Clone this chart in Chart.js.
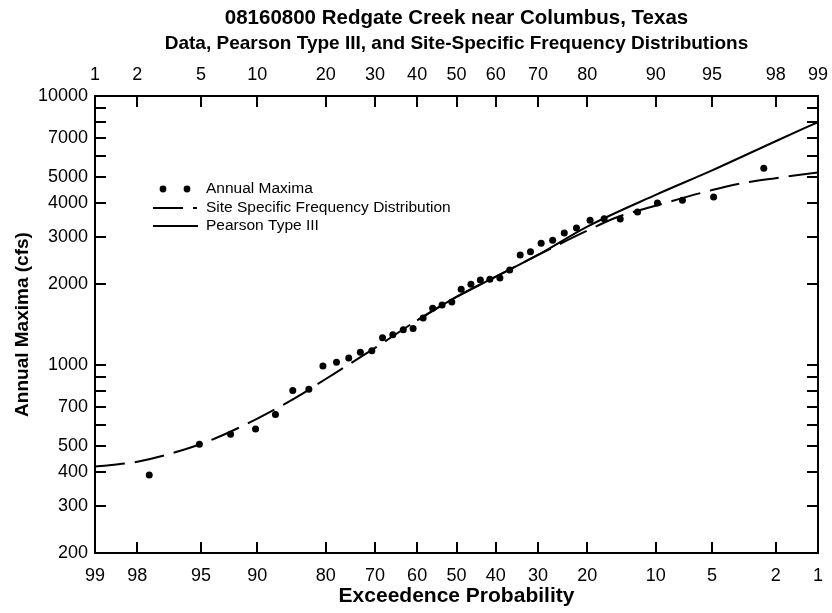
<!DOCTYPE html>
<html><head><meta charset="utf-8">
<script src="https://cdn.jsdelivr.net/npm/chart.js@4/dist/chart.umd.min.js"></script>
<style>html,body{margin:0;padding:0;background:#fff;}#wrap{width:832px;height:613px;}</style>
</head><body><div id="wrap"><canvas id="c" width="832" height="613"></canvas></div>
<script>
const titleText = '08160800 Redgate Creek near Columbus, Texas';
const subtitleText = 'Data, Pearson Type III, and Site-Specific Frequency Distributions';
const xAxisTitle = 'Exceedence Probability';
const yAxisTitle = 'Annual Maxima (cfs)';
const legendLabels = ['Annual Maxima', 'Site Specific Frequency Distribution', 'Pearson Type III'];

// probability axis ticks (percent)
const topTickLabels = [1, 2, 5, 10, 20, 30, 40, 50, 60, 70, 80, 90, 95, 98, 99];
const bottomTickLabels = [99, 98, 95, 90, 80, 70, 60, 50, 40, 30, 20, 10, 5, 2, 1];
// flow axis ticks (cfs)
const yTickValues = [200, 300, 400, 500, 600, 700, 800, 900, 1000, 2000, 3000, 4000, 5000, 6000, 7000, 8000, 9000, 10000];
const yTickLabels = [200, 300, 400, 500, 700, 1000, 2000, 3000, 4000, 5000, 7000, 10000];

// annual maxima: exceedance probability (%) and peak flow (cfs)
const maximaExceed = [97.6, 95.1, 92.7, 90.2, 87.8, 85.4, 82.9, 80.5, 78.0, 75.6, 73.2, 70.7, 68.3, 65.9, 63.4, 61.0, 58.5, 56.1, 53.7, 51.2,
                      48.8, 46.3, 43.9, 41.5, 39.0, 36.6, 34.1, 31.7, 29.3, 26.8, 24.4, 22.0, 19.5, 17.1, 14.6, 12.2, 9.8, 7.3, 4.9, 2.4];
const maximaFlow = [390, 507, 553, 578, 654, 803, 812, 992, 1023, 1062, 1115, 1130, 1263, 1296, 1353, 1367, 1495, 1625, 1671, 1715,
                    1911, 1995, 2070, 2083, 2106, 2256, 2564, 2638, 2834, 2908, 3095, 3231, 3451, 3499, 3490, 3705, 4001, 4095, 4212, 5384];

// site specific frequency distribution
const siteExceed = [99, 98, 96, 94, 90, 85, 80, 70, 60, 50, 40, 30, 20, 15, 10, 5, 3, 2, 1];
const siteFlow = [419, 437, 485, 533, 632, 755, 887, 1157, 1465, 1790, 2130, 2565, 3160, 3550, 3910, 4470, 4790, 4950, 5200];

// Pearson Type III
const pearsonExceed = [60, 50, 40, 30, 20, 10, 5, 2, 1];
const pearsonFlow = [1465, 1790, 2130, 2565, 3270, 4290, 5290, 6790, 8000];

function normInv(p) {
  const a = [-3.969683028665376e+01, 2.209460984245205e+02, -2.759285104469687e+02, 1.383577518672690e+02, -3.066479806614716e+01, 2.506628277459239e+00];
  const b = [-5.447609879822406e+01, 1.615858368580409e+02, -1.556989798598866e+02, 6.680131188771972e+01, -1.328068155288572e+01];
  const c = [-7.784894002430293e-03, -3.223964580411365e-01, -2.400758277161838e+00, -2.549732539343734e+00, 4.374664141464968e+00, 2.938163982698783e+00];
  const d = [7.784695709041462e-03, 3.224671290700398e-01, 2.445134137142996e+00, 3.754408661907416e+00];
  const pl = 0.02425, ph = 1 - pl;
  let q, r;
  if (p < pl) { q = Math.sqrt(-2 * Math.log(p)); return (((((c[0]*q+c[1])*q+c[2])*q+c[3])*q+c[4])*q+c[5]) / ((((d[0]*q+d[1])*q+d[2])*q+d[3])*q+1); }
  if (p <= ph) { q = p - 0.5; r = q*q; return (((((a[0]*r+a[1])*r+a[2])*r+a[3])*r+a[4])*r+a[5])*q / (((((b[0]*r+b[1])*r+b[2])*r+b[3])*r+b[4])*r+1); }
  q = Math.sqrt(-2 * Math.log(1 - p));
  return -(((((c[0]*q+c[1])*q+c[2])*q+c[3])*q+c[4])*q+c[5]) / ((((d[0]*q+d[1])*q+d[2])*q+d[3])*q+1);
}
// exceedance percent -> standard normal position (left = high exceedance)
const zOfExceed = e => normInv(1 - e / 100);
const pts = (ex, fl) => ex.map((e, i) => ({ x: zOfExceed(e), y: fl[i] }));

const FONT = "'Liberation Sans', Arial, Helvetica, sans-serif";
const zMin = normInv(0.01), zMax = normInv(0.99);

const innerTicks = {
  id: 'innerTicks',
  afterDraw(chart) {
    const ctx = chart.ctx, ca = chart.chartArea, L = 11;
    const { x, xTop, y, yRight } = chart.scales;
    ctx.save();
    ctx.strokeStyle = '#000';
    ctx.lineWidth = 2;
    ctx.beginPath();
    x.ticks.forEach(t => {
      const p = Math.round(x.getPixelForValue(t.value));
      if (p > ca.left + 2 && p < ca.right - 2) { ctx.moveTo(p, ca.bottom); ctx.lineTo(p, ca.bottom - L); }
    });
    xTop.ticks.forEach(t => {
      const p = Math.round(xTop.getPixelForValue(t.value));
      if (p > ca.left + 2 && p < ca.right - 2) { ctx.moveTo(p, ca.top); ctx.lineTo(p, ca.top + L); }
    });
    y.ticks.forEach(t => {
      const p = Math.round(y.getPixelForValue(t.value));
      if (p > ca.top + 2 && p < ca.bottom - 2) { ctx.moveTo(ca.left, p); ctx.lineTo(ca.left + L, p); }
    });
    yRight.ticks.forEach(t => {
      const p = Math.round(yRight.getPixelForValue(t.value));
      if (p > ca.top + 2 && p < ca.bottom - 2) { ctx.moveTo(ca.right, p); ctx.lineTo(ca.right - L, p); }
    });
    ctx.stroke();
    ctx.restore();
  }
};

const plotLegend = {
  id: 'plotLegend',
  afterDraw(chart) {
    const ctx = chart.ctx, ca = chart.chartArea;
    const x0 = ca.left + 58, tx = ca.left + 111;
    const rows = [ca.top + 93, ca.top + 112, ca.top + 130];
    ctx.save();
    ctx.fillStyle = '#000'; ctx.strokeStyle = '#000';
    [x0 + 10, x0 + 34].forEach(px => { ctx.beginPath(); ctx.arc(px, rows[0], 3.4, 0, Math.PI * 2); ctx.fill(); });
    ctx.lineWidth = 2;
    ctx.setLineDash([30, 10]);
    ctx.beginPath(); ctx.moveTo(x0, rows[1]); ctx.lineTo(x0 + 44, rows[1]); ctx.stroke();
    ctx.setLineDash([]);
    ctx.beginPath(); ctx.moveTo(x0, rows[2]); ctx.lineTo(x0 + 45, rows[2]); ctx.stroke();
    ctx.font = '15.5px ' + FONT;
    ctx.textBaseline = 'middle';
    ctx.textAlign = 'left';
    legendLabels.forEach((t, i) => ctx.fillText(t, tx, rows[i]));
    ctx.restore();
  }
};

const noPadX = s => { s.paddingLeft = 0; s.paddingRight = 0; };
const noPadY = s => { s.paddingTop = 0; s.paddingBottom = 0; };

new Chart(document.getElementById('c'), {
  type: 'scatter',
  data: {
    datasets: [
      { label: legendLabels[0], data: pts(maximaExceed, maximaFlow), showLine: false,
        pointRadius: 3.5, pointBackgroundColor: '#000', pointBorderWidth: 0, pointHoverRadius: 3.5 },
      { label: legendLabels[1], data: pts(siteExceed, siteFlow), showLine: true, borderColor: '#000',
        borderWidth: 2, borderDash: [30, 10], pointRadius: 0, cubicInterpolationMode: 'monotone', fill: false },
      { label: legendLabels[2], data: pts(pearsonExceed, pearsonFlow), showLine: true, borderColor: '#000',
        borderWidth: 2, pointRadius: 0, cubicInterpolationMode: 'monotone', fill: false }
    ]
  },
  options: {
    responsive: false,
    animation: false,
    devicePixelRatio: 1,
    layout: { padding: 0 },
    plugins: {
      legend: { display: false },
      tooltip: { enabled: false },
      title: { display: true, text: titleText, fullSize: false, color: '#000',
        font: { family: FONT, size: 20.5, weight: 'bold' }, padding: { top: 6, bottom: 2 } },
      subtitle: { display: true, text: subtitleText, fullSize: false, color: '#000',
        font: { family: FONT, size: 19, weight: 'bold' }, padding: { top: 0, bottom: 2 } }
    },
    scales: {
      x: {
        type: 'linear', position: 'bottom', min: zMin, max: zMax,
        grid: { display: false, drawTicks: false }, border: { display: true, color: '#000', width: 2 },
        afterBuildTicks: s => { s.ticks = topTickLabels.map(p => ({ value: normInv(p / 100) })); },
        afterFit: s => { s.height = 60; noPadX(s); },
        ticks: { autoSkip: false, maxRotation: 0, color: '#000', padding: 12,
          font: { family: FONT, size: 18 }, callback: (v, i) => String(bottomTickLabels[i]) },
        title: { display: true, text: xAxisTitle, color: '#000', font: { family: FONT, size: 21, weight: 'bold' },
          padding: { top: 0, bottom: 4 } }
      },
      xTop: {
        type: 'linear', axis: 'x', position: 'top', min: zMin, max: zMax,
        grid: { display: false, drawTicks: false }, border: { display: true, color: '#000', width: 2 },
        afterBuildTicks: s => { s.ticks = topTickLabels.map(p => ({ value: normInv(p / 100) })); },
        afterFit: s => { s.height = 96 - 57.4; noPadX(s); },
        ticks: { autoSkip: false, maxRotation: 0, color: '#000', padding: 10,
          font: { family: FONT, size: 18 }, callback: (v, i) => String(topTickLabels[i]) }
      },
      y: {
        type: 'logarithmic', position: 'left', min: 200, max: 10000,
        grid: { display: false, drawTicks: false }, border: { display: true, color: '#000', width: 2 },
        afterBuildTicks: s => { s.ticks = yTickValues.map(v => ({ value: v })); },
        afterFit: s => { s.width = 95; noPadY(s); },
        ticks: { autoSkip: false, color: '#000', padding: 7, font: { family: FONT, size: 18 },
          callback: v => yTickLabels.includes(v) ? String(v) : '' },
        title: { display: true, text: yAxisTitle, color: '#000', font: { family: FONT, size: 19, weight: 'bold' },
          padding: { top: 11, bottom: 0 } }
      },
      yRight: {
        type: 'logarithmic', axis: 'y', position: 'right', min: 200, max: 10000,
        grid: { display: false, drawTicks: false }, border: { display: true, color: '#000', width: 2 },
        afterBuildTicks: s => { s.ticks = yTickValues.map(v => ({ value: v })); },
        afterFit: s => { s.width = 14; noPadY(s); },
        ticks: { display: false }
      }
    }
  },
  plugins: [innerTicks, plotLegend]
});
</script>
</body></html>
